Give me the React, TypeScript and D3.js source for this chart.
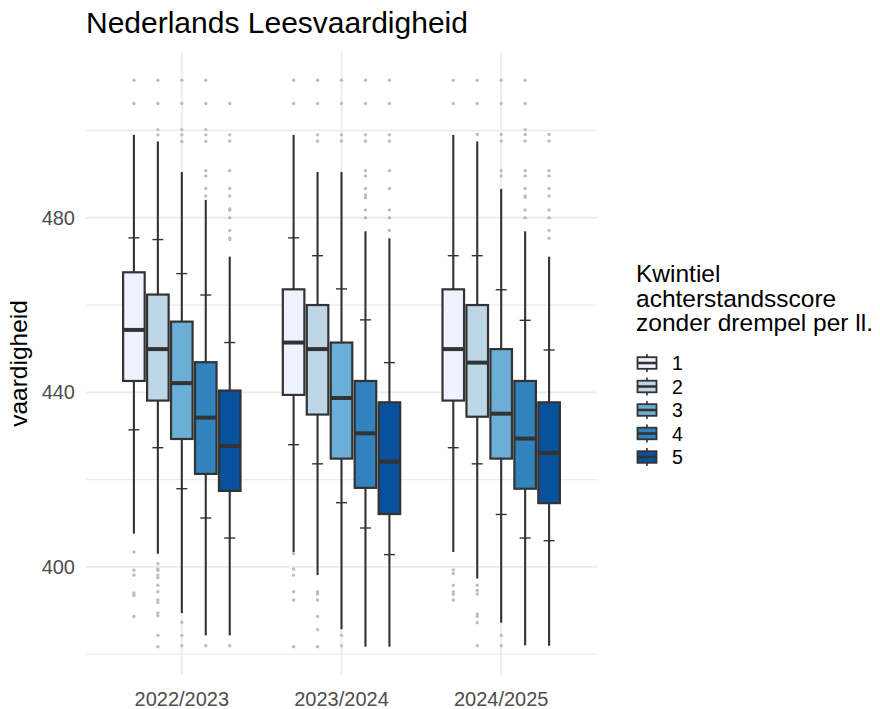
import * as d3 from 'd3'

const years = ['2022/2023', '2023/2024', '2024/2025']
const quintiles = ['1', '2', '3', '4', '5']
const colors = ['#eff3ff', '#bdd7e7', '#6baed6', '#3182bd', '#08519c']

// one row per school year, one value per quintile
const whiskerHigh = [
  [499.0, 497.5, 490.5, 484.1, 471.1],
  [499.0, 490.5, 490.5, 476.9, 475.3],
  [499.0, 497.5, 486.6, 476.9, 471.1],
]
const p90 = [
  [475.4, 475.0, 467.2, 462.3, 451.4],
  [475.4, 471.3, 463.7, 456.6, 446.8],
  [471.3, 471.3, 463.5, 456.5, 449.7],
]
const q3 = [
  [467.5, 462.4, 456.2, 446.9, 440.4],
  [463.6, 460.0, 451.4, 442.6, 437.7],
  [463.6, 460.0, 449.9, 442.6, 437.7],
]
const medians = [
  [454.3, 449.9, 442.1, 434.2, 427.7],
  [451.4, 449.9, 438.7, 430.6, 424.1],
  [449.9, 446.8, 435.1, 429.4, 426.1],
]
const q1 = [
  [442.6, 438.1, 429.3, 421.3, 417.4],
  [439.4, 434.9, 424.8, 418.1, 412.1],
  [438.1, 434.4, 424.8, 417.9, 414.6],
]
const p10 = [
  [431.4, 427.3, 417.9, 411.2, 406.6],
  [428.0, 423.6, 414.7, 408.9, 402.8],
  [427.3, 423.6, 412.0, 406.6, 406.0],
]
const whiskerLow = [
  [407.6, 403.0, 389.4, 384.3, 384.3],
  [403.4, 398.1, 385.7, 381.7, 381.7],
  [403.4, 397.3, 387.2, 382.0, 381.9],
]
const outliers = [
  [
    [511.5, 506.2, 403.4, 399.2, 398.1, 394.0, 393.5, 388.6],
    [511.5, 506.2, 500.2, 499.0, 400.7, 399.5, 399.2, 398.1, 397.5, 395.8, 394.3, 392.4, 391.8, 389.4, 388.8, 384.3, 381.7],
    [511.5, 506.2, 500.2, 499.0, 497.5, 387.3, 384.3, 381.9],
    [511.5, 506.2, 500.2, 499.0, 497.5, 490.8, 489.6, 486.7, 485.0, 381.9],
    [506.2, 499.0, 497.6, 490.8, 486.7, 485.0, 482.0, 481.7, 480.0, 477.1, 475.4, 475.0, 381.9],
  ],
  [
    [511.5, 506.2, 403.0, 399.5, 398.1, 394.3, 392.4, 381.7],
    [511.5, 506.2, 499.0, 497.6, 394.3, 393.8, 392.4, 388.6, 385.6, 381.7],
    [511.5, 506.2, 499.0, 497.6, 384.3, 381.9],
    [511.5, 506.2, 499.0, 497.6, 490.8, 489.6, 486.7, 485.2, 484.6, 481.8, 480.0],
    [511.5, 506.2, 499.0, 497.6, 490.8, 486.7, 481.8, 480.0, 477.1],
  ],
  [
    [511.5, 506.2, 399.3, 398.4, 395.8, 394.3, 393.7, 392.4],
    [511.5, 506.2, 499.1, 395.8, 394.6, 393.8, 389.2, 388.6, 387.2, 381.9],
    [511.5, 506.2, 499.1, 497.6, 490.8, 489.6, 384.3, 381.9],
    [511.5, 506.2, 500.2, 499.1, 497.6, 490.8, 489.6, 486.7, 485.0, 484.7, 481.8, 480.0],
    [499.1, 497.6, 490.8, 489.6, 486.7, 485.0, 481.8, 480.0, 477.1, 475.3],
  ],
]
const majorTicks = [400, 440, 480]
const minorTicks = [380, 420, 460, 500]

const W = 880
const H = 709
const panel = { left: 86, right: 597, top: 52, bottom: 675 }
const font = '"Liberation Sans", Arial, Helvetica, sans-serif'
const dark = '#333333'

export default function App() {
  const all = d3.merge<number>([...whiskerHigh, ...whiskerLow, ...outliers.flat()])
  const [lo, hi] = d3.extent(all) as [number, number]
  const pad = (hi - lo) * 0.05

  const y = d3.scaleLinear().domain([lo - pad, hi + pad]).range([panel.bottom, panel.top])
  const x = d3.scalePoint<string>().domain(years).range([panel.left, panel.right]).padding(0.6)
  const dodge = d3.scaleBand<string>().domain(quintiles).range([-x.step() * 0.375, x.step() * 0.375])
  const boxW = dodge.bandwidth() * 0.9

  const legendY = d3.scalePoint<string>().domain(quintiles).range([363, 457])

  return (
    <svg width={W} height={H} style={{ display: 'block', fontFamily: font }}>
      <style>{'body{margin:0}'}</style>
      <rect width={W} height={H} fill="#ffffff" />

      {/* grid */}
      {minorTicks.map(t => (
        <line key={'mi' + t} x1={panel.left} x2={panel.right} y1={y(t)} y2={y(t)} stroke="#ebebeb" strokeWidth={1.3} />
      ))}
      {majorTicks.map(t => (
        <line key={'ma' + t} x1={panel.left} x2={panel.right} y1={y(t)} y2={y(t)} stroke="#ebebeb" strokeWidth={1.8} />
      ))}
      {years.map(yr => (
        <line key={'v' + yr} x1={x(yr)} x2={x(yr)} y1={panel.top} y2={panel.bottom} stroke="#ebebeb" strokeWidth={1.8} />
      ))}

      {/* boxplots */}
      {years.map((yr, gi) =>
        quintiles.map((qn, qi) => {
          const cx = (x(yr) as number) + (dodge(qn) as number) + dodge.bandwidth() / 2
          return (
            <g key={yr + qn}>
              {outliers[gi][qi].map((v, k) => (
                <circle key={k} cx={cx} cy={y(v)} r={1.7} fill="#bdbdbd" />
              ))}
              <line x1={cx} x2={cx} y1={y(whiskerHigh[gi][qi])} y2={y(q3[gi][qi])} stroke={dark} strokeWidth={2.1} />
              <line x1={cx} x2={cx} y1={y(q1[gi][qi])} y2={y(whiskerLow[gi][qi])} stroke={dark} strokeWidth={2.1} />
              <rect
                x={cx - boxW / 2}
                width={boxW}
                y={y(q3[gi][qi])}
                height={y(q1[gi][qi]) - y(q3[gi][qi])}
                fill={colors[qi]}
                stroke={dark}
                strokeWidth={2.2}
              />
              <line x1={cx - boxW / 2} x2={cx + boxW / 2} y1={y(medians[gi][qi])} y2={y(medians[gi][qi])} stroke={dark} strokeWidth={4} />
              {[p90[gi][qi], p10[gi][qi]].map((v, k) => (
                <line key={'t' + k} x1={cx - 5.5} x2={cx + 5.5} y1={y(v)} y2={y(v)} stroke={dark} strokeWidth={1.4} />
              ))}
            </g>
          )
        })
      )}

      {/* axes */}
      {majorTicks.map(t => (
        <text key={'yl' + t} x={75} y={y(t)} dy="0.36em" textAnchor="end" fontSize={20} fill="#4d4d4d">
          {t}
        </text>
      ))}
      {years.map(yr => (
        <text key={'xl' + yr} x={x(yr)} y={706} textAnchor="middle" fontSize={20} fill="#4d4d4d">
          {yr}
        </text>
      ))}
      <text
        transform={`translate(27,${(panel.top + panel.bottom) / 2}) rotate(-90)`}
        textAnchor="middle"
        fontSize={24.5}
        fill="#000000"
      >
        vaardigheid
      </text>
      <text x={86} y={33} fontSize={30} fill="#000000">
        Nederlands Leesvaardigheid
      </text>

      {/* legend */}
      <g fontSize={24.5} fill="#000000">
        <text x={636} y={282}>Kwintiel</text>
        <text x={636} y={306.5}>achterstandsscore</text>
        <text x={636} y={331}>zonder drempel per ll.</text>
      </g>
      {quintiles.map((qn, qi) => {
        const cy = legendY(qn) as number
        const kx = 647
        return (
          <g key={'lg' + qn}>
            <line x1={kx} x2={kx} y1={cy - 9} y2={cy + 9} stroke={dark} strokeWidth={1.6} />
            <rect x={kx - 9.5} y={cy - 5.8} width={19} height={11.6} fill={colors[qi]} stroke={dark} strokeWidth={1.8} />
            <line x1={kx - 9.5} x2={kx + 9.5} y1={cy} y2={cy} stroke={dark} strokeWidth={2.6} />
            <text x={672} y={cy} dy="0.36em" fontSize={19.5} fill="#000000">
              {qn}
            </text>
          </g>
        )
      })}
    </svg>
  )
}
